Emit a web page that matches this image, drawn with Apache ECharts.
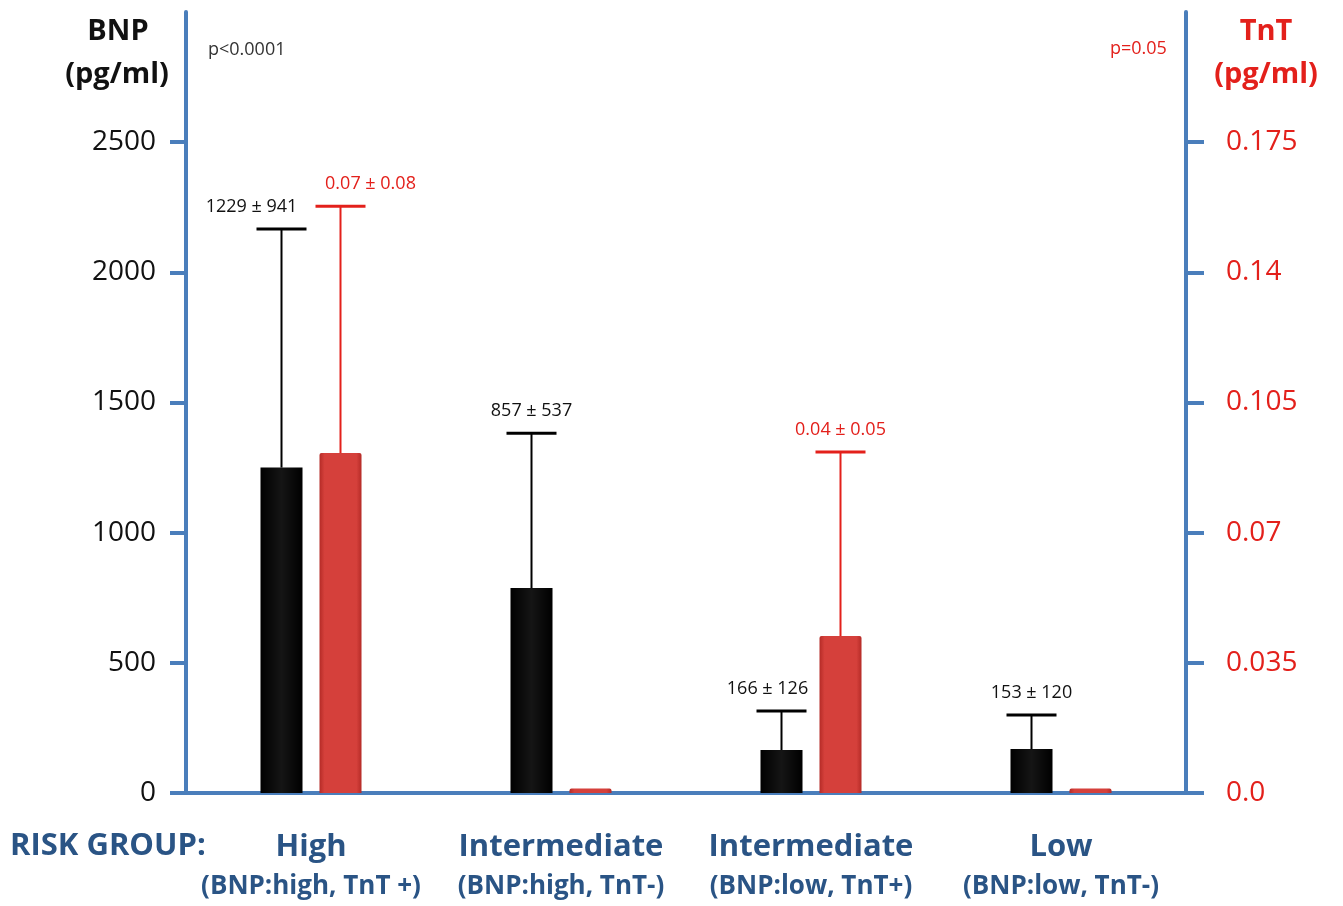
<!DOCTYPE html>
<html><head><meta charset="utf-8">
<script src="https://cdn.jsdelivr.net/npm/echarts@6/dist/echarts.min.js"></script>
<style>html,body{margin:0;padding:0;background:#fff}#c{width:1343px;height:906px}</style>
</head><body><div id="c"></div>
<script>
// ---- data ----
const groupNames = ['High', 'Intermediate', 'Intermediate', 'Low'];
const groupSubs = ['(BNP:high, TnT +)', '(BNP:high, TnT-)', '(BNP:low, TnT+)', '(BNP:low, TnT-)'];
const bnpBar = [1250, 787, 165, 169];          // drawn bar heights (pg/ml)
const bnpErrTop = [2166, 1382, 315, 300];      // drawn error-bar tops
const bnpLabels = ['1229 ± 941', '857 ± 537', '166 ± 126', '153 ± 120'];
const tntBar = [0.0914, 0.0012, 0.0422, 0.0012]; // drawn bar heights (pg/ml)
const tntErrTop = [0.1578, null, 0.0917, null];
const tntLabels = ['0.07 ± 0.08', '', '0.04 ± 0.05', ''];
const bnpTicks = [0, 500, 1000, 1500, 2000, 2500];
const tntTicks = [0, 0.035, 0.07, 0.105, 0.14, 0.175];
const tntTickLabels = ['0.0', '0.035', '0.07', '0.105', '0.14', '0.175'];

const FONT = '"Open Sans", Lato, sans-serif';
const AXIS_BLUE = '#4a7ebb';
const TEXT_BLUE = '#2a5485';
const RED = '#e3201b';
const BAR_W = 42, BAR_GAP = 17;

const chart = echarts.init(document.getElementById('c'));

// layout tweak: keep labels clear of the neighbouring bar / error bar
function labelShift(seriesSign, idx) {
  if (idx === 0) return seriesSign * 30;
  if (idx === 2 && seriesSign < 0) return -14;
  return 0;
}

function errSeries(name, tops, bars, labels, yIdx, sign, color) {
  return {
    type: 'custom', name, yAxisIndex: yIdx, z: 5,
    data: tops.map((t, i) => [i, bars[i], t]),
    renderItem(params, api) {
      const top = api.value(2);
      if (top === null || top === undefined || isNaN(top)) return null;
      const i = api.value(0);
      const off = sign * (BAR_W + BAR_GAP) / 2;
      const pb = api.coord([i, api.value(1)]);
      const pt = api.coord([i, top]);
      const x = pb[0] + off;
      const lbl = labels[i];
      return {
        type: 'group', children: [
          { type: 'line', shape: { x1: x, y1: pb[1], x2: x, y2: pt[1] }, style: { stroke: color, lineWidth: 2 } },
          { type: 'line', shape: { x1: x - 25, y1: pt[1], x2: x + 25, y2: pt[1] }, style: { stroke: color, lineWidth: 3 } },
          { type: 'text', x: x + labelShift(sign, i), y: pt[1] - 13, style: { text: lbl, fill: color === '#000' ? '#111' : RED, font: '18px ' + FONT, align: 'center', verticalAlign: 'bottom' } }
        ]
      };
    }
  };
}

const option = {
  animation: false,
  backgroundColor: '#fff',
  grid: { left: 186, right: 157, top: 12, bottom: 113 },
  xAxis: {
    type: 'category', data: groupNames.map((n, i) => n + '\n' + groupSubs[i]),
    axisLine: { lineStyle: { color: AXIS_BLUE, width: 4 } },
    axisTick: { show: false },
    axisLabel: {
      margin: 34, interval: 0,
      formatter: (v) => { const p = v.split('\n'); return '{a|' + p[0] + '}\n{b|' + p[1] + '}'; },
      rich: {
        a: { fontFamily: FONT, fontWeight: 'bold', fontSize: 31, color: TEXT_BLUE, lineHeight: 40 },
        b: { fontFamily: FONT, fontWeight: 'bold', fontSize: 26, color: TEXT_BLUE, lineHeight: 40 }
      }
    }
  },
  yAxis: [
    {
      type: 'value', min: 0, max: 3000, interval: 500, position: 'left',
      splitLine: { show: false },
      axisLine: { show: true, lineStyle: { color: AXIS_BLUE, width: 4 } },
      axisTick: { show: true, length: 16, customValues: bnpTicks, lineStyle: { color: AXIS_BLUE, width: 4 } },
      axisLabel: { customValues: bnpTicks, margin: 30, color: '#111', fontSize: 28, fontFamily: FONT, formatter: (v) => String(v) }
    },
    {
      type: 'value', min: 0, max: 0.21, interval: 0.035, position: 'right',
      splitLine: { show: false },
      axisLine: { show: true, lineStyle: { color: AXIS_BLUE, width: 4 } },
      axisTick: { show: true, length: 18, customValues: tntTicks, lineStyle: { color: AXIS_BLUE, width: 4 } },
      axisLabel: { customValues: tntTicks, margin: 40, color: RED, fontSize: 28, fontFamily: FONT,
        formatter: (v) => { const k = tntTicks.findIndex(t => Math.abs(t - v) < 1e-9); return k >= 0 ? tntTickLabels[k] : ''; } }
    }
  ],
  series: [
    {
      type: 'bar', name: 'BNP', yAxisIndex: 0, data: bnpBar, barWidth: BAR_W, barGap: (BAR_GAP / BAR_W * 100) + '%',
      itemStyle: { color: new echarts.graphic.LinearGradient(0, 0, 1, 0, [
        { offset: 0, color: '#000' }, { offset: 0.5, color: '#151515' }, { offset: 1, color: '#000' }]) }
    },
    {
      type: 'bar', name: 'TnT', yAxisIndex: 1, data: tntBar, barWidth: BAR_W,
      itemStyle: { borderRadius: [2, 2, 0, 0], color: new echarts.graphic.LinearGradient(0, 0, 1, 0, [
        { offset: 0, color: '#b52b27' }, { offset: 0.12, color: '#d5403b' }, { offset: 0.88, color: '#d5403b' }, { offset: 1, color: '#b52b27' }]) }
    },
    errSeries('BNP err', bnpErrTop, bnpBar, bnpLabels, 0, -1, '#000'),
    errSeries('TnT err', tntErrTop, tntBar, tntLabels, 1, 1, RED)
  ],
  graphic: [
    { type: 'text', x: 118, y: 32, style: { text: 'BNP', font: 'bold 29px ' + FONT, fill: '#111', align: 'center', verticalAlign: 'middle' } },
    { type: 'text', x: 117, y: 75, style: { text: '(pg/ml)', font: 'bold 29px ' + FONT, fill: '#111', align: 'center', verticalAlign: 'middle' } },
    { type: 'text', x: 1266, y: 32, style: { text: 'TnT', font: 'bold 29px ' + FONT, fill: RED, align: 'center', verticalAlign: 'middle' } },
    { type: 'text', x: 1266, y: 75, style: { text: '(pg/ml)', font: 'bold 29px ' + FONT, fill: RED, align: 'center', verticalAlign: 'middle' } },
    { type: 'text', x: 208, y: 50, style: { text: 'p<0.0001', font: '18px ' + FONT, fill: '#333', verticalAlign: 'middle' } },
    { type: 'text', x: 1110, y: 49, style: { text: 'p=0.05', font: '18px ' + FONT, fill: RED, verticalAlign: 'middle' } },
    { type: 'text', x: 10, y: 846, style: { text: 'RISK GROUP:', font: 'bold 31px ' + FONT, fill: TEXT_BLUE, verticalAlign: 'middle' } }
  ]
};
chart.setOption(option);
</script>
</body></html>
